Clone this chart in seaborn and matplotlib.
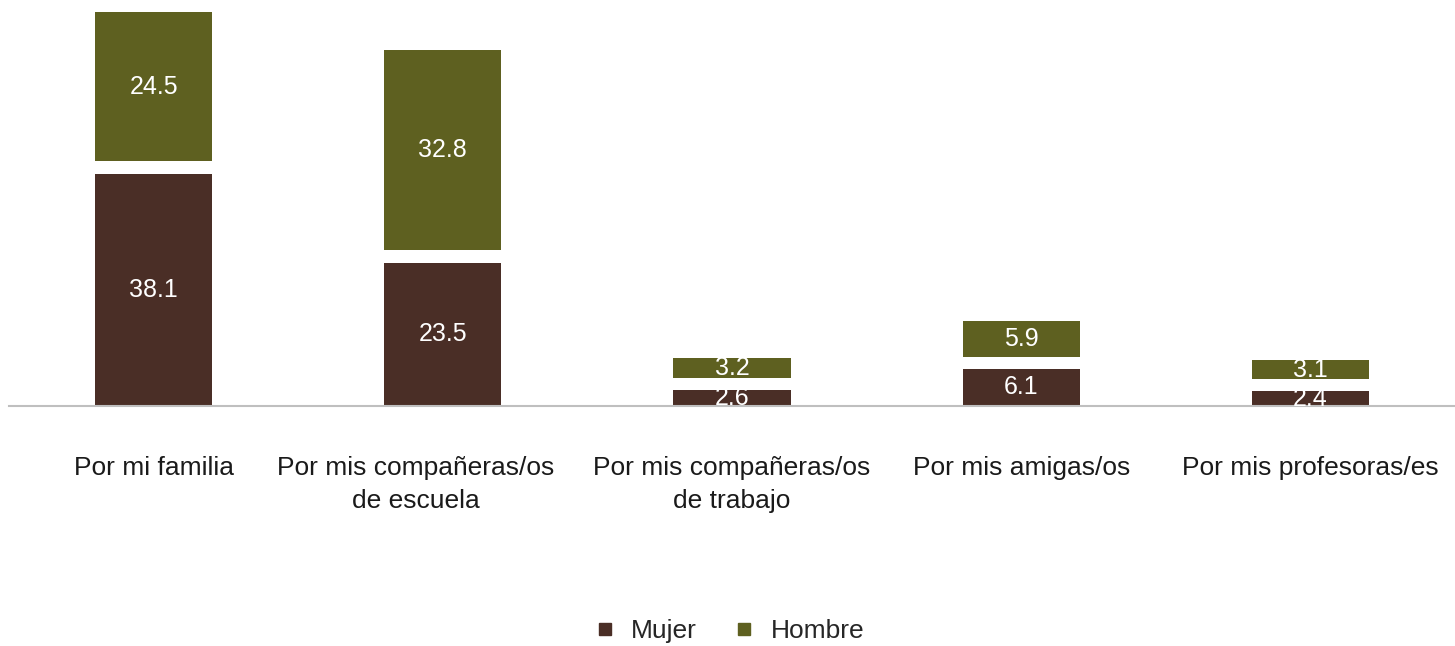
import numpy as np
import pandas as pd
import seaborn as sns
import matplotlib.pyplot as plt
import matplotlib.transforms as mtransforms
from matplotlib.lines import Line2D

categorias = ['Por mi familia', 'Por mis compañeras/os\nde escuela',
              'Por mis compañeras/os\nde trabajo', 'Por mis amigas/os',
              'Por mis profesoras/es']
mujer = [38.1, 23.5, 2.6, 6.1, 2.4]
hombre = [24.5, 32.8, 3.2, 5.9, 3.1]

col_mujer = '#4A2E26'
col_hombre = '#5E6020'
hueco = 2.0  # white space between the two segments

sns.set_style('white')
plt.rcParams['font.family'] = ['Liberation Sans', 'DejaVu Sans']

df = pd.DataFrame({'cat': categorias, 'mujer': mujer, 'hombre': hombre})

fig = plt.figure(figsize=(14.55, 6.46), dpi=100)
ax = fig.add_axes([9 / 1455, 1 - 406 / 646, 1 - 9 / 1455, 406 / 646])

sns.barplot(data=df, x='cat', y='mujer', color=col_mujer, width=0.405,
            saturation=1, edgecolor='none', linewidth=0, ax=ax)
sns.barplot(data=df, x='cat', y='hombre', color=col_hombre, width=0.405,
            saturation=1, edgecolor='none', linewidth=0,
            bottom=np.array(mujer) + hueco, ax=ax)

for i, (m, h) in enumerate(zip(mujer, hombre)):
    ax.text(i, m / 2, f'{m:.1f}', ha='center', va='center', color='white', fontsize=18)
    ax.text(i, m + hueco + h / 2, f'{h:.1f}', ha='center', va='center', color='white', fontsize=18)

ax.set_xlim(-0.5, 4.5)
ax.set_ylim(0, 406 / 6.1)
ax.set_xlabel('')
ax.set_ylabel('')
ax.set_yticks([])
ax.tick_params(axis='x', length=0, pad=36, labelsize=19, labelcolor='#1a1a1a')
for lbl in ax.get_xticklabels():
    lbl.set_linespacing(1.45)
# second label sits a bit to the left in the original
lbl2 = ax.get_xticklabels()[1]
lbl2.set_transform(lbl2.get_transform() + mtransforms.ScaledTranslation(-0.27, 0, fig.dpi_scale_trans))
for s in ['top', 'left', 'right']:
    ax.spines[s].set_visible(False)
ax.spines['bottom'].set_color('#BFBFBF')
ax.spines['bottom'].set_linewidth(1.5)

handles = [Line2D([], [], marker='s', linestyle='none', markersize=9,
                  color=col_mujer, label='Mujer'),
           Line2D([], [], marker='s', linestyle='none', markersize=9,
                  color=col_hombre, label='Hombre')]
fig.legend(handles=handles, loc='center', bbox_to_anchor=(728 / 1455, 1 - 631 / 646),
           ncol=2, frameon=False, fontsize=19, handletextpad=0.5, columnspacing=1.3,
           handlelength=1.0)

fig.savefig('out.png', dpi=100)
